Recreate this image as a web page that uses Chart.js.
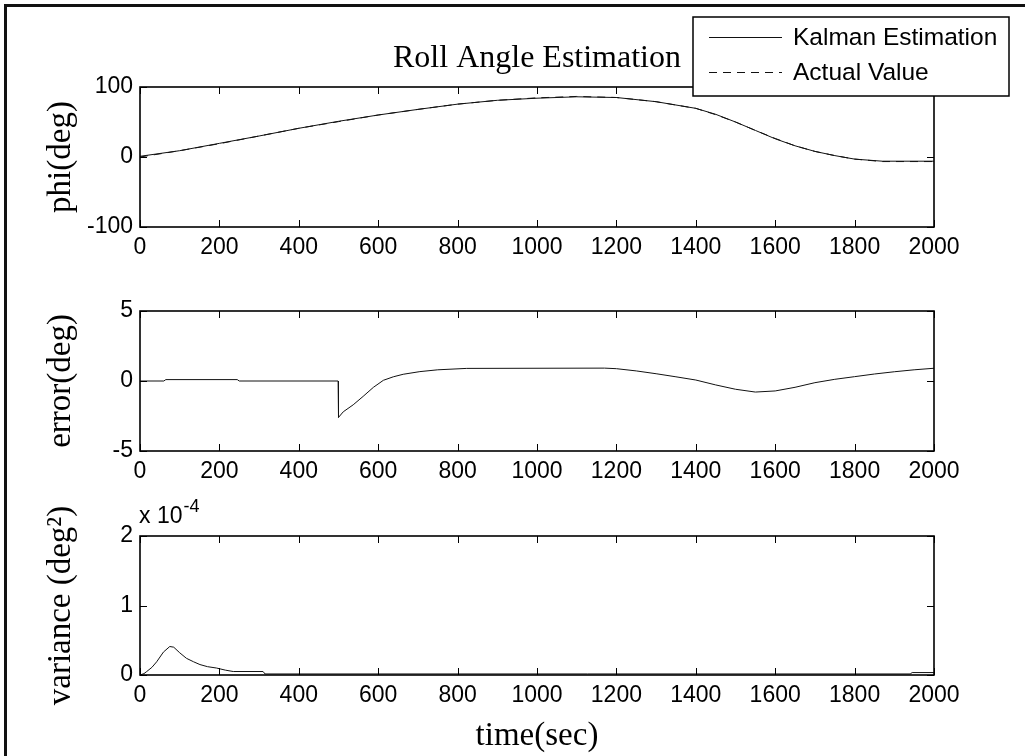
<!DOCTYPE html>
<html>
<head>
<meta charset="utf-8">
<script src="https://cdn.jsdelivr.net/npm/chart.js@4.4.0/dist/chart.umd.min.js"></script>
<style>
    html, body { margin: 0; padding: 0; background: #fff; }
    #fig { position: relative; width: 1025px; height: 756px; overflow: hidden; background: #fff; }
    #frame { position: absolute; left: 4px; top: 4px; width: 1100px; height: 800px; border-left: 3px solid #111; border-top: 3px solid #111; }
    canvas { position: absolute; left: 0; }
</style>
</head>
<body>
<div id="fig">
    <div id="frame"></div>
    <canvas id="phiChart" width="1025" height="270" style="top:0px"></canvas>
    <canvas id="errorChart" width="1025" height="225" style="top:270px"></canvas>
    <canvas id="varianceChart" width="1025" height="261" style="top:495px"></canvas>
</div>
<script>
// roll angle (deg)
const phiTime    = [0, 100, 200, 300, 400, 500, 600, 700, 800, 900, 1000, 1100, 1200, 1300, 1400, 1450, 1500, 1550, 1600, 1650, 1700, 1750, 1800, 1870, 2000];
const phiKalman  = [1, 9, 19.5, 30, 41, 51, 60, 68, 75.5, 81, 84, 86, 85, 79, 69.5, 61, 50, 38, 26, 16, 8, 2, -3, -6, -6];
const phiActual  = [0, 9, 19, 30, 41, 50.5, 60, 68, 75.5, 81, 84.5, 86.5, 85, 79, 69.5, 60.5, 50, 38, 26.5, 16, 8, 2, -3, -6.5, -6.5];

// estimation error (deg)
const errTime  = [0, 60, 65, 245, 250, 499, 500, 512, 537, 562, 588, 613, 638, 663, 705, 750, 823, 1170, 1200, 1250, 1300, 1350, 1400, 1450, 1500, 1550, 1600, 1650, 1700, 1750, 1800, 1850, 1900, 1950, 2000];
const errValue = [0, 0, 0.1, 0.1, 0, 0, -2.6, -2.2, -1.7, -1.1, -0.45, 0.05, 0.3, 0.48, 0.67, 0.8, 0.9, 0.92, 0.88, 0.72, 0.52, 0.3, 0.07, -0.28, -0.59, -0.79, -0.71, -0.45, -0.12, 0.12, 0.31, 0.5, 0.66, 0.8, 0.91];

// variance, in units of 1e-4 deg^2
const varTime  = [0, 10, 17, 30, 42, 59, 75, 85, 100, 117, 135, 151, 170, 193, 215, 235, 310, 315, 1940, 1945, 2000];
const varValue = [0, 0.02, 0.05, 0.11, 0.19, 0.33, 0.41, 0.40, 0.32, 0.24, 0.19, 0.15, 0.12, 0.10, 0.07, 0.05, 0.05, 0.015, 0.015, 0.035, 0.035];

const seriesLabels = ["Kalman Estimation", "Actual Value"];
const xTickStep = 200;

const SERIF = "'Liberation Serif', 'Times New Roman', serif";
const SANS = "'Liberation Sans', Arial, sans-serif";
const TICK_LEN = 7;
const DASH = [8, 6];

function toPoints(xs, ys) {
    return xs.map((x, i) => ({ x: x, y: ys[i] }));
}

// matlab style box with inward ticks on all four sides
const matlabAxes = {
    id: 'matlabAxes',
    afterDatasetsDraw(chart) {
        const { ctx, chartArea: a, scales: { x, y } } = chart;
        ctx.save();
        ctx.strokeStyle = '#000';
        ctx.lineWidth = 1;
        ctx.beginPath();
        x.ticks.forEach(t => {
            const px = Math.round(x.getPixelForValue(t.value)) + 0.5;
            ctx.moveTo(px, a.bottom); ctx.lineTo(px, a.bottom - TICK_LEN);
            ctx.moveTo(px, a.top); ctx.lineTo(px, a.top + TICK_LEN);
        });
        y.ticks.forEach(t => {
            const py = Math.round(y.getPixelForValue(t.value)) + 0.5;
            ctx.moveTo(a.left, py); ctx.lineTo(a.left + TICK_LEN, py);
            ctx.moveTo(a.right, py); ctx.lineTo(a.right - TICK_LEN, py);
        });
        ctx.stroke();
        ctx.lineWidth = 1.6;
        ctx.strokeRect(a.left, a.top, a.right - a.left, a.bottom - a.top);
        ctx.restore();
    }
};

const titleAndLegend = {
    id: 'titleAndLegend',
    afterDraw(chart) {
        const { ctx, chartArea: a } = chart;
        ctx.save();
        ctx.fillStyle = '#000';
        ctx.font = "32px " + SERIF;
        ctx.textAlign = 'center';
        ctx.textBaseline = 'alphabetic';
        ctx.fillText("Roll Angle Estimation", (a.left + a.right) / 2, 67);

        // legend box
        const box = { left: 693, top: 17, right: 1009, bottom: 96 };
        ctx.fillStyle = '#fff';
        ctx.fillRect(box.left, box.top, box.right - box.left, box.bottom - box.top);
        ctx.strokeStyle = '#000';
        ctx.lineWidth = 1.5;
        ctx.strokeRect(box.left, box.top, box.right - box.left, box.bottom - box.top);

        ctx.font = "24.5px " + SANS;
        ctx.textAlign = 'left';
        ctx.textBaseline = 'middle';
        const rows = [37, 72];
        chart.data.datasets.forEach((ds, i) => {
            const yy = rows[i] + 0.5;
            ctx.strokeStyle = ds.borderColor;
            ctx.lineWidth = 1;
            ctx.setLineDash(ds.borderDash || []);
            ctx.beginPath();
            ctx.moveTo(709, yy);
            ctx.lineTo(782, yy);
            ctx.stroke();
            ctx.setLineDash([]);
            ctx.fillStyle = '#000';
            ctx.fillText(ds.label, 793, rows[i] + 1);
        });
        ctx.restore();
    }
};

const exponentLabel = {
    id: 'exponentLabel',
    afterDraw(chart) {
        const { ctx } = chart;
        ctx.save();
        ctx.fillStyle = '#000';
        ctx.textAlign = 'left';
        ctx.textBaseline = 'alphabetic';
        ctx.font = "23px " + SANS;
        ctx.fillText("x 10", 139, 28);
        const w = ctx.measureText("x 10").width;
        ctx.font = "18px " + SANS;
        ctx.fillText("-4", 139 + w + 1, 17);
        ctx.restore();
    }
};

function buildOptions(yMin, yMax, yStep, yTitle, topPad, xHeight, xTitle) {
    return {
        responsive: false,
        animation: false,
        events: [],
        layout: { padding: { top: topPad, right: 91, left: 0, bottom: 0 } },
        plugins: { legend: { display: false }, tooltip: { enabled: false } },
        elements: { point: { radius: 0 }, line: { tension: 0 } },
        scales: {
            x: {
                type: 'linear',
                min: 0,
                max: 2000,
                grid: { display: false, drawTicks: false },
                border: { display: false },
                ticks: {
                    stepSize: xTickStep,
                    autoSkip: false,
                    maxRotation: 0,
                    padding: 7,
                    color: '#000',
                    font: { family: SANS, size: 23 },
                    callback: v => String(v)
                },
                title: {
                    display: !!xTitle,
                    text: xTitle || '',
                    color: '#000',
                    font: { family: SERIF, size: 33 },
                    padding: { top: 0, bottom: 0 }
                },
                afterFit(scale) { scale.height = xHeight; }
            },
            y: {
                min: yMin,
                max: yMax,
                grid: { display: false, drawTicks: false },
                border: { display: false },
                ticks: {
                    stepSize: yStep,
                    padding: 7,
                    color: '#000',
                    font: { family: SANS, size: 23 },
                    callback: v => String(v)
                },
                title: {
                    display: true,
                    text: yTitle,
                    color: '#000',
                    font: { family: SERIF, size: 33 },
                    padding: { top: 42, bottom: 0 }
                },
                afterFit(scale) { scale.width = 140; }
            }
        }
    };
}

function lineSet(label, xs, ys, dash) {
    return {
        label: label,
        data: toPoints(xs, ys),
        borderColor: '#111',
        borderWidth: 1,
        borderDash: dash || [],
        fill: false
    };
}

new Chart(document.getElementById('phiChart').getContext('2d'), {
    type: 'line',
    data: {
        datasets: [
            lineSet(seriesLabels[0], phiTime, phiKalman),
            lineSet(seriesLabels[1], phiTime, phiActual, DASH)
        ]
    },
    options: buildOptions(-100, 100, 100, 'phi(deg)', 87, 43),
    plugins: [matlabAxes, titleAndLegend]
});

new Chart(document.getElementById('errorChart').getContext('2d'), {
    type: 'line',
    data: { datasets: [lineSet('error', errTime, errValue)] },
    options: buildOptions(-5, 5, 5, 'error(deg)', 41, 44),
    plugins: [matlabAxes]
});

new Chart(document.getElementById('varianceChart').getContext('2d'), {
    type: 'line',
    data: { datasets: [lineSet('variance', varTime, varValue)] },
    options: buildOptions(0, 2, 1, 'variance (deg\u00B2)', 41, 81, 'time(sec)'),
    plugins: [matlabAxes, exponentLabel]
});
</script>
</body>
</html>
